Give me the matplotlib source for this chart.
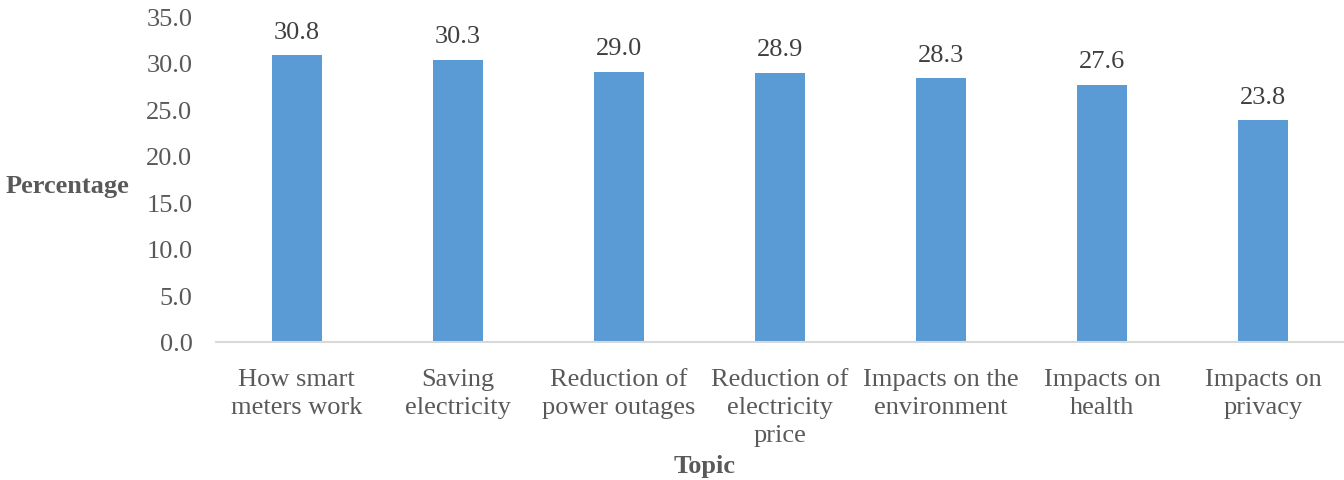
import matplotlib
matplotlib.use('Agg')
import matplotlib.pyplot as plt

topics = [
    'How smart\nmeters work',
    'Saving\nelectricity',
    'Reduction of\npower outages',
    'Reduction of\nelectricity\nprice',
    'Impacts on the\nenvironment',
    'Impacts on\nhealth',
    'Impacts on\nprivacy',
]
percentages = [30.8, 30.3, 29.0, 28.9, 28.3, 27.6, 23.8]
y_ticks = [0, 5, 10, 15, 20, 25, 30, 35]

plt.rcParams['font.family'] = ['Liberation Serif', 'DejaVu Serif']
text_color = '#595959'

fig = plt.figure(figsize=(13.44, 4.81), dpi=100)
ax = fig.add_axes([216 / 1344, 1 - 343 / 481, 1128 / 1344, (343 - 17) / 481])

x = range(len(topics))
bars = ax.bar(x, percentages, width=0.31, color='#5B9BD5', zorder=2)
for xi, v in zip(x, percentages):
    ax.annotate(f'{v:.1f}', (xi, v), xytext=(0, 9), textcoords='offset points',
                ha='center', va='bottom', fontsize=19, color='#404040')

ax.set_xlim(-0.5, len(topics) - 0.5)
ax.set_ylim(0, 35)
ax.set_yticks(y_ticks)
ax.set_yticklabels([f'{t:.1f}' for t in y_ticks])
ax.set_xticks(list(x))
ax.set_xticklabels(topics, linespacing=1.33)
ax.tick_params(axis='both', length=0, labelsize=19, labelcolor=text_color)
ax.tick_params(axis='y', pad=17)
ax.tick_params(axis='x', pad=19)

for side in ['top', 'right', 'left']:
    ax.spines[side].set_visible(False)
ax.spines['bottom'].set_color('#D9D9D9')
ax.spines['bottom'].set_linewidth(1.5)

fig.text(67 / 1344, 1 - 187 / 481, 'Percentage', ha='center', va='center',
         fontsize=19, fontweight='bold', color=text_color)
fig.text(705 / 1344, 1 - 466 / 481, 'Topic', ha='center', va='center',
         fontsize=19, fontweight='bold', color=text_color)

fig.savefig('out.png', dpi=100)
plt.close(fig)
